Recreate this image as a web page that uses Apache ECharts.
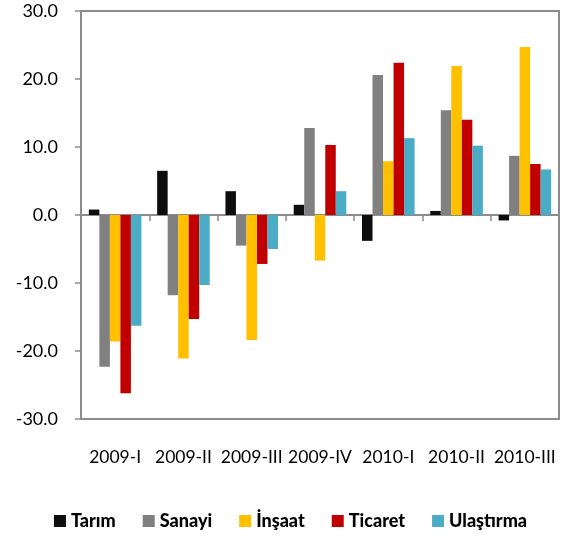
<!DOCTYPE html>
<html>
<head>
<meta charset="utf-8">
<script src="https://cdn.jsdelivr.net/npm/echarts@6/dist/echarts.min.js"></script>
<style>
  html, body { margin: 0; padding: 0; background: #fff; }
  #chart { width: 581px; height: 540px; }
</style>
</head>
<body>
<div id="chart"></div>
<script>
// çeyrekler
var quarters = ['2009-I', '2009-II', '2009-III', '2009-IV', '2010-I', '2010-II', '2010-III'];

// sektör büyüme oranları
var tarim     = [0.8, 6.5, 3.5, 1.5, -3.8, 0.6, -0.8];
var sanayi    = [-22.3, -11.8, -4.5, 12.8, 20.6, 15.4, 8.7];
var insaat    = [-18.6, -21.1, -18.4, -6.7, 7.9, 21.9, 24.7];
var ticaret   = [-26.2, -15.3, -7.2, 10.3, 22.4, 14.0, 7.5];
var ulastirma = [-16.3, -10.3, -5.0, 3.5, 11.3, 10.2, 6.7];

var seriesNames = ['Tarım', 'Sanayi', 'İnşaat', 'Ticaret', 'Ulaştırma'];
var seriesData = [tarim, sanayi, insaat, ticaret, ulastirma];
var colors = ['#0d0d0d', '#808080', '#ffc000', '#c00000', '#4bacc6'];

var font = 'Lato, "Open Sans", sans-serif';
var chart = echarts.init(document.getElementById('chart'));

var series = seriesNames.map(function (name, i) {
    return {
        name: name,
        type: 'bar',
        xAxisIndex: 0,
        barGap: '0%',
        barCategoryGap: '23%',
        itemStyle: { color: colors[i] },
        data: seriesData[i]
    };
});

var option = {
    animation: false,
    textStyle: { fontFamily: font },
    grid: {
        left: 81,
        right: 22,
        top: 11,
        bottom: 121,
        show: true,
        borderColor: '#8c8c8c',
        borderWidth: 2,
        backgroundColor: 'transparent'
    },
    legend: {
        bottom: 5,
        left: 'center',
        itemWidth: 12,
        itemHeight: 12,
        itemGap: 27,
        icon: 'rect',
        textStyle: { fontFamily: font, fontSize: 18, fontWeight: 900, color: '#000' },
        data: seriesNames
    },
    xAxis: [{
        type: 'category',
        data: quarters,
        axisLine: { onZero: true, lineStyle: { color: '#8c8c8c', width: 2 } },
        axisTick: { show: true, length: 6, lineStyle: { color: '#8c8c8c', width: 1.5 } },
        axisLabel: { show: false },
        splitLine: { show: false }
    }, {
        type: 'category',
        position: 'bottom',
        data: quarters,
        axisLine: { show: false },
        axisTick: { show: false },
        axisLabel: { interval: 0, margin: 29, fontSize: 17.5, color: '#000', fontFamily: font },
        splitLine: { show: false }
    }],
    yAxis: {
        type: 'value',
        min: -30,
        max: 30,
        interval: 10,
        axisLine: { show: true, lineStyle: { color: '#8c8c8c', width: 2 } },
        axisTick: { show: true, length: 6, lineStyle: { color: '#8c8c8c', width: 1.5 } },
        axisLabel: {
            fontSize: 18,
            color: '#000',
            margin: 23,
            fontFamily: font,
            formatter: function (v) { return v.toFixed(1); }
        },
        splitLine: { show: false }
    },
    series: series
};

chart.setOption(option);
</script>
</body>
</html>
